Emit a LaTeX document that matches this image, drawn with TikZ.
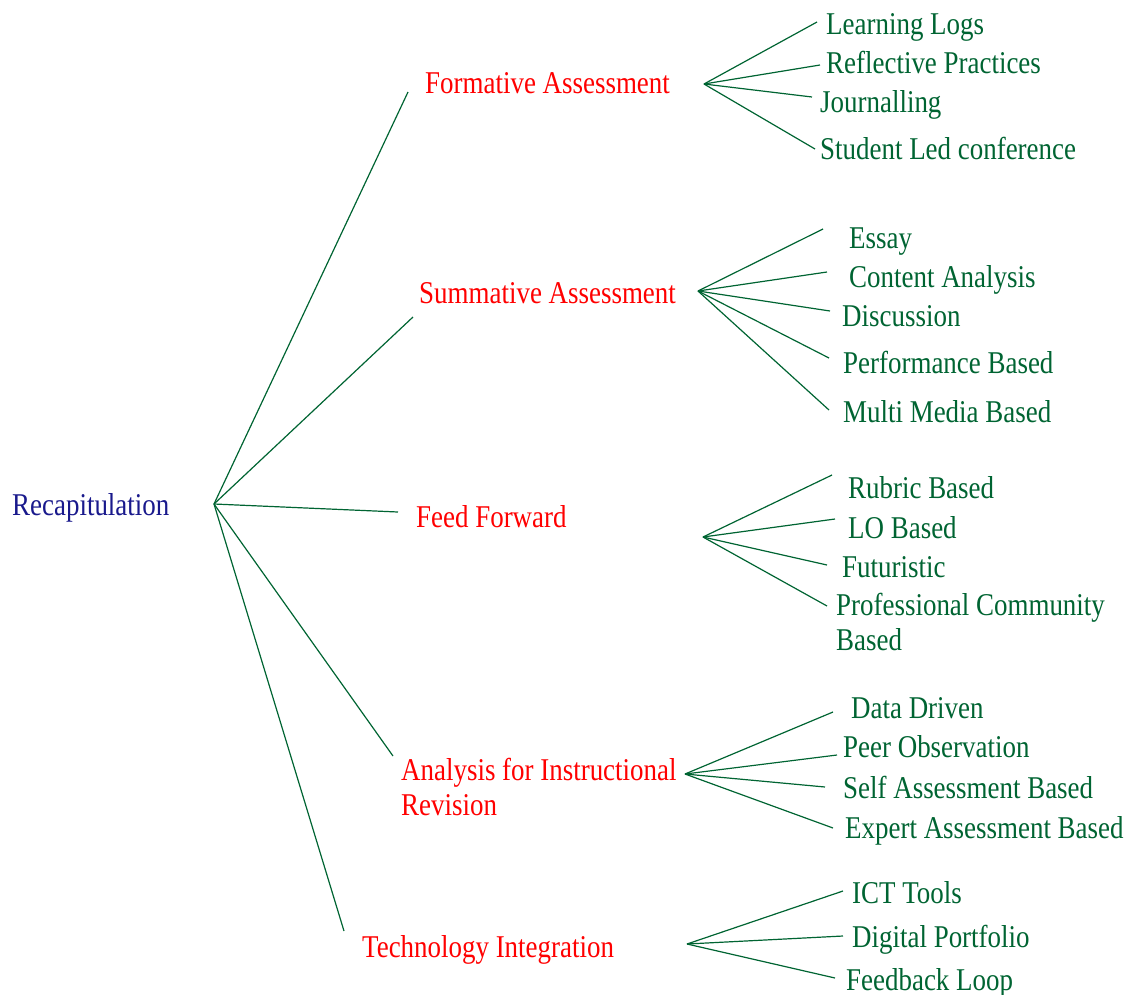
\documentclass[tikz,border=0pt]{standalone}
\usepackage{fontspec}
\setmainfont{Liberation Serif}[FakeStretch=0.85]
\definecolor{lgreen}{RGB}{0,100,50}
\definecolor{lred}{RGB}{255,0,0}
\definecolor{lblue}{RGB}{25,25,140}
\tikzset{
  lbl/.style={inner sep=0pt, anchor=base west, font=\fontsize{31.7}{34.5}\selectfont, align=left},
  leaf/.style={lbl, text=lgreen},
  mid/.style={lbl, text=lred},
  root/.style={lbl, text=lblue},
  link/.style={draw=lgreen, line width=1.2pt}
}
\begin{document}
\begin{tikzpicture}[x=1pt,y=-1pt]
\useasboundingbox (0,0) rectangle (1127,994);
% root
\node[root] (rec) at (12,515) {Recapitulation};
\coordinate (hub) at (214,504);
% middle nodes
\node[mid] (fa) at (425,93) {Formative Assessment};
\node[mid] (sa) at (419,303) {Summative Assessment};
\node[mid] (ff) at (416,527) {Feed Forward};
\node[mid] (ai) at (401,815) {Analysis for Instructional\\Revision};
\node[mid] (ti) at (362,957) {Technology Integration};
\coordinate (faE) at (408,92);
\coordinate (saE) at (413,317);
\coordinate (ffE) at (398,512);
\coordinate (aiE) at (393,756);
\coordinate (tiE) at (344,931);
\foreach \e in {faE,saE,ffE,aiE,tiE} \draw[link] (hub) -- (\e);
% Formative
\coordinate (faH) at (704,84);
\node[leaf] (f1) at (826,34) {Learning Logs};
\node[leaf] (f2) at (826,73) {Reflective Practices};
\node[leaf] (f3) at (820,112) {Journalling};
\node[leaf] (f4) at (820,159) {Student Led conference};
\coordinate (f1E) at (817,22);
\coordinate (f2E) at (820,65);
\coordinate (f3E) at (812,97);
\coordinate (f4E) at (815,149);
\foreach \e in {f1E,f2E,f3E,f4E} \draw[link] (faH) -- (\e);
% Summative
\coordinate (saH) at (698,291);
\node[leaf] (s1) at (849,248) {Essay};
\node[leaf] (s2) at (849,287) {Content Analysis};
\node[leaf] (s3) at (842,326) {Discussion};
\node[leaf] (s4) at (843,373) {Performance Based};
\node[leaf] (s5) at (843,422) {Multi Media Based};
\coordinate (s1E) at (823,229);
\coordinate (s2E) at (827,272);
\coordinate (s3E) at (830,311);
\coordinate (s4E) at (829,358);
\coordinate (s5E) at (829,410);
\foreach \e in {s1E,s2E,s3E,s4E,s5E} \draw[link] (saH) -- (\e);
% Feed Forward
\coordinate (ffH) at (703,537);
\node[leaf] (r1) at (848,498) {Rubric Based};
\node[leaf] (r2) at (848,538) {LO Based};
\node[leaf] (r3) at (842,577) {Futuristic};
\node[leaf] (r4) at (836,650) {Professional Community\\Based};
\coordinate (r1E) at (832,475);
\coordinate (r2E) at (835,519);
\coordinate (r3E) at (827,565);
\coordinate (r4E) at (827,606);
\foreach \e in {r1E,r2E,r3E,r4E} \draw[link] (ffH) -- (\e);
% Analysis
\coordinate (aiH) at (685,774);
\node[leaf] (a1) at (851,718) {Data Driven};
\node[leaf] (a2) at (843,757) {Peer Observation};
\node[leaf] (a3) at (843,798) {Self Assessment Based};
\node[leaf] (a4) at (845,838) {Expert Assessment Based};
\coordinate (a1E) at (833,712);
\coordinate (a2E) at (837,755);
\coordinate (a3E) at (825,787);
\coordinate (a4E) at (833,828);
\foreach \e in {a1E,a2E,a3E,a4E} \draw[link] (aiH) -- (\e);
% Technology
\coordinate (tiH) at (687,944);
\node[leaf] (t1) at (852,903) {ICT Tools};
\node[leaf] (t2) at (852,947) {Digital Portfolio};
\node[leaf] (t3) at (846,990) {Feedback Loop};
\coordinate (t1E) at (843,891);
\coordinate (t2E) at (843,936);
\coordinate (t3E) at (835,978);
\foreach \e in {t1E,t2E,t3E} \draw[link] (tiH) -- (\e);
\end{tikzpicture}
\end{document}
